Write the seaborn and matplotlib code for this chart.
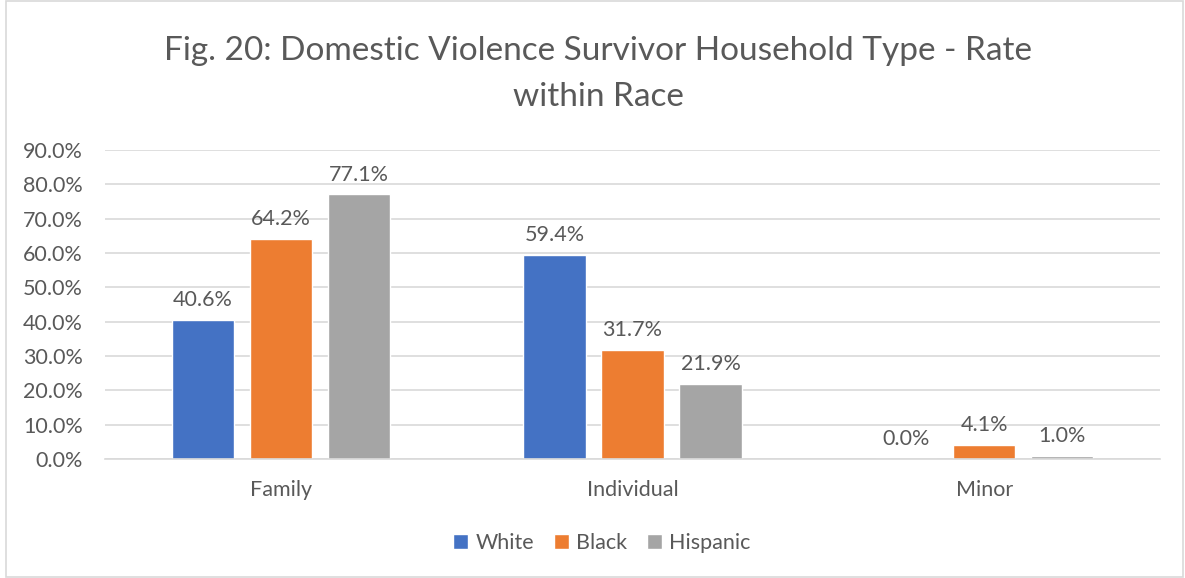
import matplotlib
matplotlib.use("Agg")
import matplotlib.pyplot as plt
import seaborn as sns
import pandas as pd
from matplotlib.patches import Rectangle

# Household type shares (%) within each race
categories = ["Family", "Individual", "Minor"]
races = ["White", "Black", "Hispanic"]
white = [40.6, 59.4, 0.0]
black = [64.2, 31.7, 4.1]
hispanic = [77.1, 21.9, 1.0]
yticks = [0, 10, 20, 30, 40, 50, 60, 70, 80, 90]

colors = ["#4472C4", "#ED7D31", "#A5A5A5"]
text_color = "#595959"

df = pd.DataFrame({
    "Household Type": categories * 3,
    "Race": [r for r in races for _ in categories],
    "Rate": white + black + hispanic,
})

sns.set_theme(style="white")
plt.rcParams["font.family"] = ["Lato", "DejaVu Sans"]

fig = plt.figure(figsize=(11.85, 5.78), dpi=100)
ax = fig.add_axes([0.0886, 0.2059, 0.8903, 0.5346])

sns.barplot(data=df, x="Household Type", y="Rate", hue="Race",
            order=categories, hue_order=races, palette=colors,
            width=0.665, gap=0.2, saturation=1, ax=ax, legend=False,
            errorbar=None)

ax.set_ylim(0, 90)
ax.set_xlim(-0.5, 2.5)
ax.set_yticks(yticks)
ax.set_yticklabels([f"{v:.1f}%" for v in yticks])
ax.yaxis.grid(True, color="#D9D9D9", linewidth=1.2)
ax.set_axisbelow(True)
for s in ["top", "right", "left"]:
    ax.spines[s].set_visible(False)
ax.spines["bottom"].set_color("#D9D9D9")
ax.spines["bottom"].set_linewidth(1.2)
ax.tick_params(axis="both", length=0, labelsize=15.5, colors=text_color)
ax.tick_params(axis="x", pad=15)
ax.tick_params(axis="y", pad=16)
ax.set_xlabel("")
ax.set_ylabel("")

for container in ax.containers:
    ax.bar_label(container, labels=[f"{b.get_height():.1f}%" for b in container],
                 padding=7, fontsize=15.5, color=text_color)

fig.text(0.505, 0.872, "Fig. 20: Domestic Violence Survivor Household Type - Rate\nwithin Race",
         ha="center", va="center", fontsize=24, color=text_color, linespacing=1.65)

handles = [Rectangle((0, 0), 1, 1, facecolor=c) for c in colors]
fig.legend(handles, races, loc="center", bbox_to_anchor=(0.508, 0.06), ncol=3,
           frameon=False, fontsize=15.5, labelcolor=text_color,
           handlelength=0.7, handleheight=0.7, handletextpad=0.35,
           columnspacing=0.9)

# light chart border
fig.patches.append(Rectangle((0.005, 0.002), 0.993, 0.996, transform=fig.transFigure,
                             fill=False, edgecolor="#D9D9D9", linewidth=1.2))

fig.savefig("out.png", dpi=100)
